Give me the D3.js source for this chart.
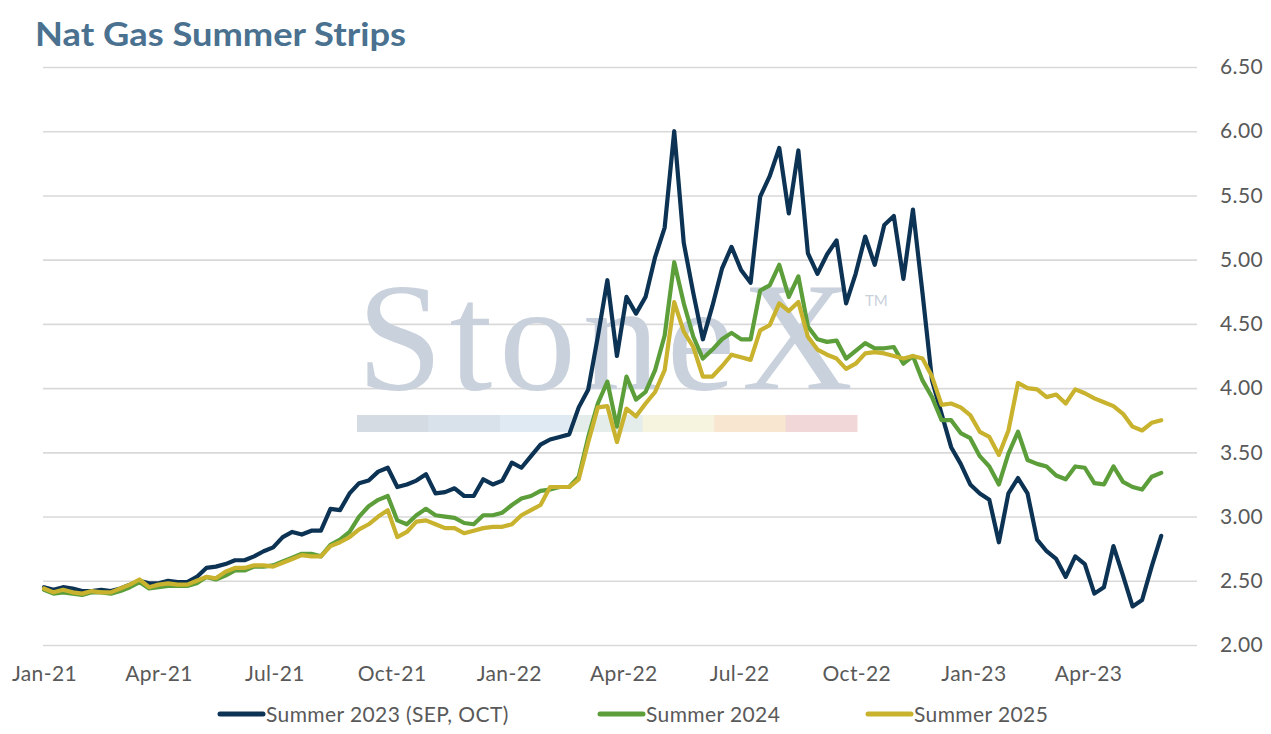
<!DOCTYPE html>
<head>
<meta charset="utf-8">

<!-- Load d3.js -->
<script src="https://d3js.org/d3.v7.min.js"></script>
<style>
  body { margin: 0; background: #fff; }
</style>
</head>

<body>
<div id="datavis"></div>

<script type="text/javascript">
    // ---- data, sampled every 7.5 days from 1 Jan 2021 ----
    var startDate = new Date(2021, 0, 1);
    var stepHours = 180;

    var summer2023 = [
      2.45, 2.43, 2.45, 2.44, 2.42, 2.42, 2.43, 2.42, 2.44, 2.47,
      2.50, 2.48, 2.48, 2.50, 2.49, 2.49, 2.53, 2.60, 2.61, 2.63,
      2.66, 2.66, 2.69, 2.73, 2.76, 2.84, 2.88, 2.86, 2.89, 2.89,
      3.06, 3.05, 3.18, 3.26, 3.28, 3.35, 3.38, 3.23, 3.25, 3.28,
      3.33, 3.18, 3.19, 3.22, 3.16, 3.16, 3.29, 3.25, 3.28, 3.42,
      3.38, 3.47, 3.56, 3.60, 3.62, 3.64, 3.85, 3.99, 4.40, 4.84,
      4.25, 4.71, 4.58, 4.71, 5.02, 5.25, 6.00, 5.13, 4.74, 4.38,
      4.64, 4.93, 5.10, 4.92, 4.82, 5.49, 5.65, 5.87, 5.36, 5.85,
      5.05, 4.89, 5.04, 5.15, 4.66, 4.89, 5.18, 4.96, 5.27, 5.34,
      4.85, 5.39, 4.74, 4.06, 3.80, 3.54, 3.41, 3.25, 3.18, 3.13,
      2.80, 3.18, 3.30, 3.18, 2.82, 2.73, 2.67, 2.53, 2.69, 2.63,
      2.40, 2.45, 2.77, 2.54, 2.30, 2.35, 2.61, 2.85
    ];

    var summer2024 = [
      2.43, 2.40, 2.41, 2.40, 2.39, 2.41, 2.41, 2.40, 2.42, 2.45,
      2.49, 2.44, 2.45, 2.46, 2.46, 2.46, 2.48, 2.53, 2.51, 2.54,
      2.58, 2.58, 2.61, 2.61, 2.62, 2.65, 2.68, 2.71, 2.71, 2.69,
      2.78, 2.82, 2.88, 3.00, 3.08, 3.13, 3.16, 2.97, 2.94, 3.01,
      3.06, 3.01, 3.00, 2.99, 2.95, 2.94, 3.01, 3.01, 3.03, 3.09,
      3.14, 3.16, 3.20, 3.21, 3.23, 3.23, 3.31, 3.62, 3.88, 4.05,
      3.70, 4.09, 3.91, 3.97, 4.14, 4.41, 4.98, 4.66, 4.40, 4.23,
      4.30, 4.38, 4.43, 4.38, 4.38, 4.76, 4.80, 4.96, 4.71, 4.87,
      4.48, 4.38, 4.36, 4.37, 4.23, 4.29, 4.35, 4.31, 4.31, 4.32,
      4.19, 4.25, 4.06, 3.93, 3.75, 3.75, 3.65, 3.61, 3.47, 3.39,
      3.25, 3.49, 3.66, 3.44, 3.41, 3.39, 3.32, 3.29, 3.39, 3.38,
      3.26, 3.25, 3.39, 3.27, 3.23, 3.21, 3.31, 3.34
    ];

    var summer2025 = [
      2.44, 2.41, 2.43, 2.41, 2.40, 2.42, 2.41, 2.41, 2.44, 2.47,
      2.51, 2.45, 2.47, 2.48, 2.47, 2.47, 2.50, 2.53, 2.52, 2.57,
      2.60, 2.60, 2.62, 2.62, 2.61, 2.64, 2.67, 2.70, 2.69, 2.69,
      2.77, 2.80, 2.84, 2.90, 2.94, 3.00, 3.05, 2.84, 2.88, 2.96,
      2.97, 2.94, 2.91, 2.91, 2.87, 2.89, 2.91, 2.92, 2.92, 2.94,
      3.01, 3.05, 3.09, 3.23, 3.23, 3.23, 3.29, 3.58, 3.85, 3.86,
      3.58, 3.84, 3.78, 3.88, 3.97, 4.14, 4.67, 4.44, 4.32, 4.09,
      4.09, 4.17, 4.26, 4.24, 4.22, 4.45, 4.49, 4.66, 4.60, 4.67,
      4.40, 4.30, 4.26, 4.23, 4.15, 4.19, 4.27, 4.28, 4.27, 4.25,
      4.23, 4.25, 4.23, 4.09, 3.87, 3.88, 3.85, 3.79, 3.66, 3.62,
      3.48, 3.67, 4.04, 4.00, 3.99, 3.93, 3.95, 3.88, 3.99, 3.96,
      3.92, 3.89, 3.86, 3.80, 3.70, 3.67, 3.73, 3.75
    ];

    var seriesNames = ["Summer 2023 (SEP, OCT)", "Summer 2024", "Summer 2025"];
    var seriesColors = ["#0c3254", "#5b9e3a", "#c9b22d"];
    var xTickLabels = ["Jan-21", "Apr-21", "Jul-21", "Oct-21", "Jan-22",
                       "Apr-22", "Jul-22", "Oct-22", "Jan-23", "Apr-23"];
    var yTicks = [2.0, 2.5, 3.0, 3.5, 4.0, 4.5, 5.0, 5.5, 6.0, 6.5];

    // watermark colour bar
    var barColors = ["#d5dbe2", "#d9e2eb", "#dfeaf3", "#e4ede9", "#f6f3de", "#f8e6d1", "#f2d7d9"];

    var width = 1271, height = 734;
    var plotLeft = 43, plotRight = 1197;
    var labelFont = "Lato, 'Open Sans', sans-serif";

    var svg = d3.select("#datavis")
                .append("svg")
                .attr("width", width)
                .attr("height", height);

    var dates = summer2023.map(function(d, i) { return d3.timeHour.offset(startDate, i * stepHours); });
    var parseTick = d3.timeParse("%b-%y");
    var tickDates = xTickLabels.map(function(s) { return parseTick(s); });

    // x: 1 Jan 2021 -> 44px, 1 Apr 2023 -> 1088px
    var x = d3.scaleTime()
              .domain([tickDates[0], tickDates[tickDates.length - 1]])
              .range([44, 1088]);

    var y = d3.scaleLinear()
              .domain([2, 6.5])
              .range([645, 67]);

    // Title
    svg.append("text")
       .attr("x", 35)
       .attr("y", 46)
       .attr("font-family", labelFont)
       .attr("font-size", 32)
       .attr("font-weight", 700)
       .attr("textLength", 371)
       .attr("lengthAdjust", "spacingAndGlyphs")
       .attr("fill", "#4a7190")
       .text("Nat Gas Summer Strips");

    // Y axis on the right, with gridlines
    var yAxis = svg.append("g")
       .attr("transform", "translate(" + plotRight + ",0)")
       .call(d3.axisRight(y)
               .tickValues(yTicks)
               .tickFormat(d3.format(".2f"))
               .tickSize(-(plotRight - plotLeft))
               .tickPadding(23));
    yAxis.select(".domain").remove();
    yAxis.selectAll("line").attr("stroke", "#d9d9d9").attr("stroke-width", 1.6);
    yAxis.selectAll("text")
         .attr("font-family", labelFont)
         .attr("font-size", 21)
         .attr("letter-spacing", 0.4)
         .attr("fill", "#595959");

    // Watermark
    var wm = svg.append("g");
    wm.append("text")
      .attr("x", 357)
      .attr("y", 389)
      .attr("font-family", "'Liberation Serif', 'DejaVu Serif', serif")
      .attr("font-size", 154)
      .attr("textLength", 496)
      .attr("lengthAdjust", "spacing")
      .attr("fill", "#c9d1dc")
      .text("StoneX");
    wm.append("text")
      .attr("x", 865)
      .attr("y", 306)
      .attr("font-family", labelFont)
      .attr("font-size", 15)
      .attr("fill", "#c9d1dc")
      .text("TM");
    wm.selectAll("rect")
      .data(barColors)
      .enter()
      .append("rect")
      .attr("x", function(d, i) { return 357 + i * 500 / 7; })
      .attr("y", 415)
      .attr("width", 500 / 7 + 0.5)
      .attr("height", 17)
      .attr("fill", function(d) { return d; });

    // X axis labels
    var xAxis = svg.append("g")
       .attr("transform", "translate(0,645)")
       .call(d3.axisBottom(x)
               .tickValues(tickDates)
               .tickFormat(d3.timeFormat("%b-%y"))
               .tickSize(0)
               .tickPadding(21));
    xAxis.select(".domain").remove();
    xAxis.selectAll("text")
         .attr("font-family", labelFont)
         .attr("font-size", 21)
         .attr("letter-spacing", 0.4)
         .attr("fill", "#595959");

    // Lines
    var allSeries = [summer2023, summer2024, summer2025];
    var line = d3.line()
                 .x(function(d, i) { return x(dates[i]); })
                 .y(function(d) { return y(d); });

    allSeries.forEach(function(values, k) {
      svg.append("path")
         .datum(values)
         .attr("fill", "none")
         .attr("stroke", seriesColors[k])
         .attr("stroke-width", 4.2)
         .attr("stroke-linejoin", "round")
         .attr("stroke-linecap", "round")
         .attr("d", line);
    });

    // Legend
    var legendX = [220, 600, 868];
    var legend = svg.append("g");
    seriesNames.forEach(function(name, k) {
      legend.append("line")
            .attr("x1", legendX[k]).attr("x2", legendX[k] + 43)
            .attr("y1", 714).attr("y2", 714)
            .attr("stroke", seriesColors[k])
            .attr("stroke-width", 5)
            .attr("stroke-linecap", "round");
      legend.append("text")
            .attr("x", legendX[k] + 46)
            .attr("y", 722)
            .attr("font-family", labelFont)
            .attr("font-size", 21)
            .attr("letter-spacing", 0.4)
            .attr("fill", "#595959")
            .text(name);
    });
</script>
</body>
